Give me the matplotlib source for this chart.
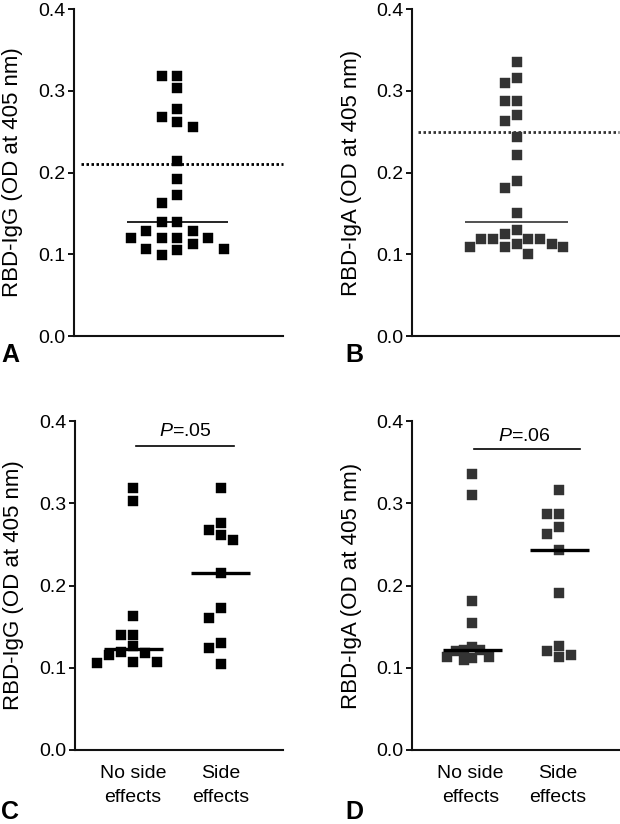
import numpy as np
import matplotlib
matplotlib.use("Agg")
import matplotlib.pyplot as plt

plt.rcParams["font.family"] = ["Liberation Sans", "DejaVu Sans"]
plt.rcParams["mathtext.fontset"] = "custom"
plt.rcParams["mathtext.rm"] = "Liberation Sans"
plt.rcParams["mathtext.it"] = "Liberation Sans:italic"

# values (OD at 405 nm)
IGG_ALL = [0.318, 0.318, 0.303, 0.278, 0.268, 0.262, 0.256, 0.214, 0.192, 0.173,
           0.163, 0.139, 0.139, 0.129, 0.129, 0.120, 0.120, 0.120, 0.120, 0.113,
           0.107, 0.107, 0.105, 0.099]
IGA_ALL = [0.335, 0.315, 0.309, 0.288, 0.287, 0.270, 0.263, 0.244, 0.222, 0.190,
           0.181, 0.150, 0.130, 0.125, 0.119, 0.119, 0.119, 0.119, 0.112, 0.112,
           0.109, 0.109, 0.109, 0.100]
IGG_NO_SE = [0.318, 0.303, 0.163, 0.140, 0.140, 0.126, 0.119, 0.118, 0.115, 0.107,
             0.107, 0.106]
IGG_SE = [0.318, 0.276, 0.267, 0.261, 0.255, 0.215, 0.173, 0.160, 0.130, 0.124, 0.105]
IGA_NO_SE = [0.336, 0.310, 0.181, 0.155, 0.125, 0.122, 0.122, 0.120, 0.113, 0.113,
             0.112, 0.109]
IGA_SE = [0.316, 0.287, 0.287, 0.271, 0.263, 0.243, 0.191, 0.127, 0.120, 0.116, 0.113]

CUTOFF_IGG = 0.21
CUTOFF_IGA = 0.25
GROUPS = ["No side\neffects", "Side\neffects"]
P_IGG = "$\\mathit{P}$=.05"
P_IGA = "$\\mathit{P}$=.06"
YLABEL_IGG = "RBD-IgG (OD at 405 nm)"
YLABEL_IGA = "RBD-IgA (OD at 405 nm)"

W, H = 620, 824
FS = 14


def swarm(values, slot_px, hit_px, px_per_unit):
    """Greedy column layout: each point takes the nearest free slot."""
    vals = np.asarray(values, dtype=float)
    placed = []
    out = np.zeros(len(vals))
    for i in np.argsort(-vals, kind="stable"):
        y = vals[i] * px_per_unit
        k = 0
        while True:
            s = (k + 1) // 2 * (-1 if k % 2 else 1)
            if all(not (ps == s and abs(py - y) < hit_px) for ps, py in placed):
                break
            k += 1
        placed.append((s, y))
        out[i] = s * slot_px
    return out


def make_axes(fig, left, top, right, bottom, xlim):
    ax = fig.add_axes([left / W, 1 - bottom / H, (right - left) / W, (bottom - top) / H])
    ax.set_xlim(*xlim)
    ax.set_ylim(0, 0.4)
    ax.set_yticks([0.0, 0.1, 0.2, 0.3, 0.4])
    ax.set_yticklabels(["0.0", "0.1", "0.2", "0.3", "0.4"])
    for side in ["top", "right"]:
        ax.spines[side].set_visible(False)
    for side in ["left", "bottom"]:
        ax.spines[side].set_linewidth(1.5)
        ax.spines[side].set_color("#111111")
    ax.tick_params(axis="y", length=4, width=1.3, pad=2, labelsize=FS)
    ax.tick_params(axis="x", length=0, labelsize=FS, pad=11)
    ax.set_xticks([])
    return ax


def draw_group(ax, x0, values, color, ms, slot_px, median_half, median_lw, median_color):
    bbox = ax.get_position()
    ax_w = bbox.width * W
    ax_h = bbox.height * H
    x_lo, x_hi = ax.get_xlim()
    px_to_x = (x_hi - x_lo) / ax_w
    offs = swarm(values, slot_px, ms * 1.389 * 1.15, ax_h / 0.4)
    ax.plot(x0 + offs * px_to_x, values, "s", ms=ms, color=color,
            mec=color, mew=0.3, ls="none", zorder=3, clip_on=False)
    med = np.median(values)
    ax.plot([x0 - median_half, x0 + median_half], [med, med], color=median_color,
            lw=median_lw, solid_capstyle="butt", zorder=4)


def set_ylabel(ax, text):
    ax.set_ylabel(text, fontsize=16)
    ax.yaxis.set_label_coords(-0.243, 0.5)


def main():
    fig = plt.figure(figsize=(W / 100, H / 100), dpi=100)

    # A: IgG all
    ax_a = make_axes(fig, 74, 9, 283, 336, (0, 1))
    draw_group(ax_a, 0.495, IGG_ALL, "#000000", 7.2, 15.5, 0.243, 1.2, "#000000")
    ax_a.plot([0.033, 1.0], [CUTOFF_IGG, CUTOFF_IGG], color="#000000", lw=2.0,
              ls=(0, (0.9, 0.9)), zorder=2, clip_on=False)
    set_ylabel(ax_a, YLABEL_IGG)

    # B: IgA all
    ax_b = make_axes(fig, 412, 9, 619, 336, (0, 1))
    draw_group(ax_b, 0.505, IGA_ALL, "#333333", 7.0, 11.7, 0.247, 1.2, "#333333")
    ax_b.plot([0.03, 1.0], [CUTOFF_IGA, CUTOFF_IGA], color="#333333", lw=2.0,
              ls=(0, (0.9, 0.9)), zorder=2, clip_on=False)
    set_ylabel(ax_b, YLABEL_IGA)

    # C: IgG by side effects
    ax_c = make_axes(fig, 75, 421, 283, 750, (-0.663, 1.712))
    draw_group(ax_c, 0.0, IGG_NO_SE, "#000000", 7.2, 12, 0.337, 2.4, "#000000")
    draw_group(ax_c, 1.0, IGG_SE, "#000000", 7.2, 12, 0.337, 2.4, "#000000")
    ax_c.plot([0.033, 1.152], [0.370, 0.370], color="#000000", lw=1.2)
    ax_c.text(0.593, 0.387, P_IGG, ha="center", va="center", fontsize=FS)
    ax_c.set_xticks([0, 1])
    ax_c.set_xticklabels(GROUPS, fontsize=FS, linespacing=1.5)
    set_ylabel(ax_c, YLABEL_IGG)

    # D: IgA by side effects
    ax_d = make_axes(fig, 412, 421, 619, 750, (-0.67, 1.705))
    draw_group(ax_d, 0.02, IGA_NO_SE, "#333333", 6.6, 8.3, 0.337, 2.4, "#000000")
    draw_group(ax_d, 1.02, IGA_SE, "#333333", 6.6, 12, 0.337, 2.4, "#000000")
    ax_d.plot([0.039, 1.253], [0.366, 0.366], color="#000000", lw=1.2)
    ax_d.text(0.623, 0.381, P_IGA, ha="center", va="center", fontsize=FS)
    ax_d.set_xticks([0, 1])
    ax_d.set_xticklabels(GROUPS, fontsize=FS, linespacing=1.5)
    set_ylabel(ax_d, YLABEL_IGA)

    # panel letters
    for label, x, y in [("A", 1, 355), ("B", 345, 355), ("C", 1, 812), ("D", 345, 812)]:
        fig.text(x / W, 1 - y / H, label, fontsize=18, fontweight="bold",
                 ha="left", va="center")

    fig.savefig("out.png", dpi=100)
    plt.close(fig)


if __name__ == "__main__":
    main()
